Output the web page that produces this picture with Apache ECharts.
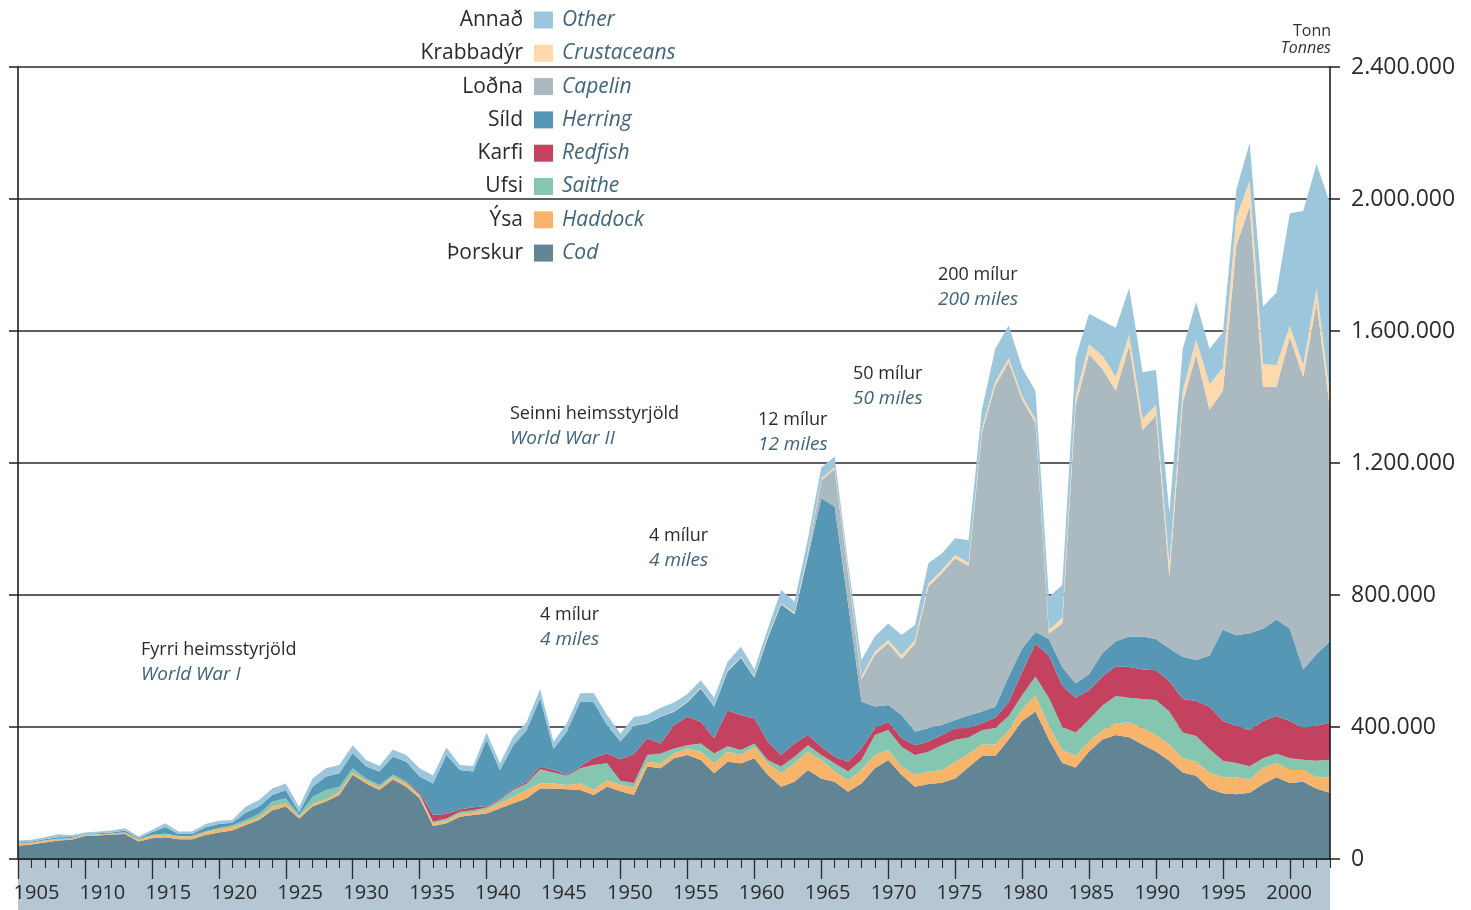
<!DOCTYPE html>
<html>
<head>
<meta charset="utf-8">
<script src="https://cdn.jsdelivr.net/npm/echarts@6/dist/echarts.min.js"></script>
<style>
html,body{margin:0;padding:0;background:#ffffff;}
#c{width:1471px;height:910px;}
</style>
</head>
<body>
<div id="c"></div>
<script>
// ---------------- DATA (thousand tonnes) ----------------
const years = [
1905,1906,1907,1908,1909,1910,1911,1912,1913,1914,
1915,1916,1917,1918,1919,1920,1921,1922,1923,1924,
1925,1926,1927,1928,1929,1930,1931,1932,1933,1934,
1935,1936,1937,1938,1939,1940,1941,1942,1943,1944,
1945,1946,1947,1948,1949,1950,1951,1952,1953,1954,
1955,1956,1957,1958,1959,1960,1961,1962,1963,1964,
1965,1966,1967,1968,1969,1970,1971,1972,1973,1974,
1975,1976,1977,1978,1979,1980,1981,1982,1983,1984,
1985,1986,1987,1988,1989,1990,1991,1992,1993,1994,
1995,1996,1997,1998,1999,2000,2001,2002,2003];

const cod = [
40,44,50,56,58, 70,71,74,76,53, 63,66,60,60,73, 80,86,103,118,148,
159,123,159,174,194, 255,229,209,241,219, 184,100,108,128,133, 138,154,169,184,214,
214,211,209,194,219, 205,194,280,275,305, 315,300,260,295,290, 305,255,219,234,270,
244,234,204,229,275, 300,255,219,227,231, 244,278,312,312,362, 418,447,362,291,277,
326,362,376,369,347, 326,298,262,252,213, 199,196,201,227,248, 230,234,213,201];

const haddock = [
7,5,6,4,5, 3,3,2,4,5, 8,7,8,8,8, 10,10,8,8,11,
10,6,8,7,10, 7,8,8,8,8, 7,8,8,8,7, 12,15,20,26,15,
15,13,20,16,20, 20,22,15,15,15, 20,25,30,30,25, 35,35,41,56,55,
56,31,35,41,40, 30,25,36,38,39, 51,40,35,35,28, 36,49,42,39,36,
30,28,35,45,50, 50,49,43,43,49, 49,52,40,50,43, 40,36,35,47];

const saithe = [
1,1,1,1,1, 1,1,1,1,2, 2,4,2,2,3, 4,6,7,10,15,
15,5,22,28,15, 13,7,7,6,7, 6,5,7,7,8, 6,10,21,19,43,
33,28,46,75,51, 12,14,20,30,15, 10,25,30,17,15, 10,10,20,20,20,
15,25,26,30,61, 61,60,60,60,75, 66,50,43,50,43, 42,57,85,70,70,
67,75,83,75,88, 106,100,78,78,71, 50,43,40,28,28, 35,31,50,53];

const redfish = [
0,0,0,0,0, 0,0,0,0,0, 0,0,0,0,0, 0,0,0,0,0,
0,0,0,0,0, 0,0,0,0,2, 6,20,13,7,9, 4,3,4,5,8,
8,3,5,22,30, 65,88,51,30,71, 86,66,46,109,106, 76,56,35,40,31,
25,20,30,35,20, 25,26,30,31,31, 35,29,21,31,42, 71,99,128,125,106,
88,88,90,93,89, 90,92,102,106,128, 120,113,109,113,114, 113,96,106,113];

const herring = [
2,3,3,5,3, 1,3,3,5,3, 8,20,6,6,12, 12,8,22,23,20,
25,8,30,41,41, 46,36,41,55,59, 47,96,179,120,108, 201,88,131,157,207,
63,131,197,168,86, 54,86,45,81,40, 44,101,96,117,174, 124,314,457,392,539,
753,758,480,142,66, 51,70,41,40,30, 25,38,36,33,78, 71,36,50,57,43,
49,71,76,92,100, 95,99,128,124,156, 277,274,294,280,293, 280,177,217,246];

const capelin = [
0,0,0,0,0, 0,0,0,0,0, 0,0,0,0,0, 0,0,0,0,0,
0,0,0,0,0, 0,0,0,0,0, 0,0,0,0,0, 0,0,0,0,0,
0,0,0,0,0, 0,0,0,0,0, 0,0,0,0,0, 0,0,0,0,10,
54,113,93,67,157, 187,170,266,429,460, 490,453,846,972,953, 754,633,16,132,842,
970,861,759,882,626, 677,218,770,926,744, 723,1180,1294,732,705, 883,887,1066,701];

const crustaceans = [
0,0,0,0,0, 0,0,0,0,0, 0,0,0,0,0, 0,0,0,0,0,
0,0,0,0,0, 0,0,0,0,0, 0,0,0,0,0, 0,0,0,0,0,
0,0,0,0,0, 0,1,1,1,2, 2,2,2,3,3, 3,4,3,4,5,
6,7,8,8,9, 10,12,12,10,10, 10,10,12,14,12, 12,12,12,16,30,
30,40,42,33,33, 32,38,35,45,78, 71,85,78,70,65, 36,35,43,43];

const other = [
6,5,6,9,5, 5,5,6,7,5, 7,11,7,7,10, 10,8,18,20,20,
20,16,25,25,25, 24,20,17,22,20, 25,24,23,15,17, 22,20,26,25,28,
22,25,25,28,30, 24,25,25,26,26, 23,23,25,27,30, 22,23,40,34,40,
33,32,20,51,46, 50,61,45,61,50, 51,68,57,99,99, 85,85,99,100,114,
92,106,149,141,142, 106,156,128,114,107, 107,85,114,174,220, 340,468,376,582];

// names, bottom of stack first
const namesIs = ['Þorskur','Ýsa','Ufsi','Karfi','Síld','Loðna','Krabbadýr','Annað'];
const namesEn = ['Cod','Haddock','Saithe','Redfish','Herring','Capelin','Crustaceans','Other'];
const seriesValues = [cod, haddock, saithe, redfish, herring, capelin, crustaceans, other];

const unitIs = 'Tonn', unitEn = 'Tonnes';
const notesIs = ['Fyrri heimsstyrjöld','4 mílur','Seinni heimsstyrjöld','4 mílur','12 mílur','50 mílur','200 mílur'];
const notesEn = ['World War I','4 miles','World War II','4 miles','12 miles','50 miles','200 miles'];

// ---------------- STYLE / LAYOUT ----------------
const FONT = "'Open Sans', 'DejaVu Sans', sans-serif";
const colors = ['#628596','#f9b46b','#84c6b0','#c3425f','#5597b4','#abb9c1','#fdd9ad','#9cc6dc'];
const IS_COLOR = '#2b2b2b', EN_COLOR = '#416479';
const notePos = [[141,650],[540,615],[510,414],[649,536],[758,420],[853,374],[938,275]];
// the printed year labels sit on a slightly compressed scale relative to the ticks
const LABEL_MIN = 1903.6, LABEL_MAX = 2003.1;

const chart = echarts.init(document.getElementById('c'));

const majorYears = years.filter(y => y % 5 === 0);

function fmtTonnes(v){
  if (v === 0) return '0';
  return String(Math.round(v)).replace(/\B(?=(\d{3})+(?!\d))/g, '.');
}

const series = seriesValues.map((vals, k) => ({
  type: 'line',
  name: namesEn[k],
  stack: 'catch',
  xAxisIndex: 0,
  yAxisIndex: 0,
  data: vals.map(v => v * 1000),
  showSymbol: false,
  symbol: 'none',
  smooth: false,
  lineStyle: { width: 0, color: colors[k] },
  itemStyle: { color: colors[k] },
  areaStyle: { color: colors[k], opacity: 1 },
  emphasis: { disabled: true },
  silent: true,
  z: 2
}));

const graphics = [];
graphics.push({ type: 'rect', left: 18, top: 860, z: 1,
  shape: { width: 1312, height: 50 }, style: { fill: '#b4c7d3' } });

for (let r = 0; r < 8; r++) {
  const k = 7 - r;
  const cy = 20 + r * 33.3;
  graphics.push({ type: 'text', x: 523, y: cy, z: 20,
    style: { text: namesIs[k], font: '21px ' + FONT, fill: IS_COLOR,
      align: 'right', textAlign: 'right', verticalAlign: 'middle', textVerticalAlign: 'middle' } });
  graphics.push({ type: 'rect', x: 534, y: cy - 8.5, z: 20,
    shape: { width: 19, height: 17 }, style: { fill: colors[k] } });
  graphics.push({ type: 'text', x: 562, y: cy, z: 20,
    style: { text: namesEn[k], font: 'italic 21px ' + FONT, fill: EN_COLOR,
      align: 'left', textAlign: 'left', verticalAlign: 'middle', textVerticalAlign: 'middle' } });
}

for (let i = 0; i < notesIs.length; i++) {
  const [x, y] = notePos[i];
  graphics.push({ type: 'text', x: x, y: y, z: 20,
    style: { text: notesIs[i], font: '18px ' + FONT, fill: IS_COLOR,
      align: 'left', textAlign: 'left', verticalAlign: 'middle', textVerticalAlign: 'middle' } });
  graphics.push({ type: 'text', x: x, y: y + 25, z: 20,
    style: { text: notesEn[i], font: 'italic 19px ' + FONT, fill: EN_COLOR,
      align: 'left', textAlign: 'left', verticalAlign: 'middle', textVerticalAlign: 'middle' } });
}

graphics.push({ type: 'text', x: 1331, y: 31, z: 20,
  style: { text: unitIs, font: '16px ' + FONT, fill: '#333',
    align: 'right', textAlign: 'right', verticalAlign: 'middle', textVerticalAlign: 'middle' } });
graphics.push({ type: 'text', x: 1331, y: 48, z: 20,
  style: { text: unitEn, font: 'italic 16px ' + FONT, fill: '#333',
    align: 'right', textAlign: 'right', verticalAlign: 'middle', textVerticalAlign: 'middle' } });

const axisColor = '#1e1e1e';

const option = {
  backgroundColor: '#ffffff',
  animation: false,
  grid: { left: 18, right: 141, top: 67, bottom: 51, containLabel: false },
  xAxis: [
    { type: 'category', data: years, boundaryGap: false, position: 'bottom', z: 10,
      axisLine: { show: true, onZero: false, lineStyle: { color: axisColor, width: 1.6 } },
      axisTick: { show: false },
      axisLabel: { show: false },
      splitLine: { show: false } },
    { type: 'value', min: 1905, max: 2003, position: 'bottom', z: 10,
      axisLine: { show: false, onZero: false },
      axisTick: { show: true, length: 20, customValues: majorYears, lineStyle: { color: '#2a2a2a', width: 1.3 } },
      axisLabel: { show: false },
      splitLine: { show: false } },
    { type: 'value', min: 1905, max: 2003, position: 'bottom', z: 10,
      axisLine: { show: false, onZero: false },
      axisTick: { show: true, length: 9, customValues: years, lineStyle: { color: '#2a2a2a', width: 1.1 } },
      axisLabel: { show: false },
      splitLine: { show: false } },
    { type: 'value', min: LABEL_MIN, max: LABEL_MAX, position: 'bottom', z: 10,
      axisLine: { show: false, onZero: false },
      axisTick: { show: false },
      axisLabel: { show: true, customValues: majorYears, fontSize: 20, color: '#2b2b2b', fontFamily: FONT,
        margin: 24, showMinLabel: true, showMaxLabel: true, hideOverlap: false, formatter: v => String(v) },
      splitLine: { show: false } }
  ],
  yAxis: [
    { type: 'value', position: 'right', min: 0, max: 2400000, interval: 400000, z: 0,
      axisLine: { show: false },
      axisTick: { show: true, length: 10, lineStyle: { color: '#2a2a2a', width: 1.6 } },
      axisLabel: { show: true, margin: 21, fontSize: 23, color: '#2b2b2b', fontFamily: FONT, formatter: fmtTonnes },
      splitLine: { show: true, lineStyle: { color: '#2a2a2a', width: 1.6 } } },
    { type: 'value', position: 'left', min: 0, max: 2400000, interval: 400000, z: 10,
      axisLine: { show: true, onZero: false, lineStyle: { color: axisColor, width: 1.6 } },
      axisTick: { show: true, length: 9, lineStyle: { color: '#2a2a2a', width: 1.6 } },
      axisLabel: { show: false },
      splitLine: { show: false } },
    { type: 'value', position: 'right', min: 0, max: 2400000, interval: 400000, z: 10,
      axisLine: { show: true, onZero: false, lineStyle: { color: axisColor, width: 1.6 } },
      axisTick: { show: false },
      axisLabel: { show: false },
      splitLine: { show: false } }
  ],
  graphic: graphics,
  series: series
};

chart.setOption(option);
</script>
</body>
</html>
